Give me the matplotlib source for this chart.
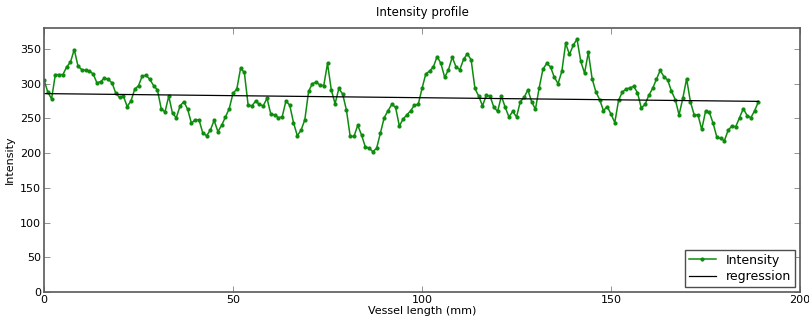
import numpy as np
import matplotlib
matplotlib.use("Agg")
import matplotlib.pyplot as plt

# intensity values, one per mm
intensity = [
    305, 288, 278, 313, 313, 313, 324, 331, 349, 325,
    320, 319, 318, 314, 301, 303, 308, 306, 301, 286,
    280, 282, 267, 275, 292, 297, 311, 312, 306, 297,
    291, 264, 259, 282, 257, 251, 268, 274, 263, 243,
    248, 248, 229, 225, 233, 247, 231, 240, 252, 264,
    286, 292, 322, 316, 269, 268, 275, 270, 268, 279,
    256, 255, 251, 252, 275, 269, 244, 225, 233, 248,
    289, 300, 302, 298, 297, 329, 291, 271, 293, 285,
    262, 224, 224, 240, 226, 209, 207, 202, 207, 229,
    251, 261, 270, 266, 239, 249, 255, 261, 269, 270,
    293, 314, 318, 324, 339, 329, 309, 320, 338, 324,
    320, 335, 343, 334, 293, 282, 268, 283, 282, 266,
    260, 282, 266, 252, 260, 252, 274, 280, 291, 274,
    263, 294, 321, 329, 324, 309, 300, 318, 358, 342,
    355, 364, 332, 315, 345, 307, 288, 277, 261, 267,
    256, 244, 276, 288, 292, 294, 296, 287, 265, 270,
    283, 293, 306, 319, 310, 305, 289, 277, 255, 279,
    307, 274, 255, 255, 234, 260, 259, 243, 223, 221,
    218, 233, 239, 238, 251, 264, 254, 251, 261, 274,
]
length = np.arange(len(intensity))

slope, intercept = np.polyfit(length, intensity, 1)
regression = intercept + slope * length

fig = plt.figure(figsize=(8.09, 3.22), dpi=100)
ax = fig.add_axes([0.0544, 0.093, 0.9345, 0.82])

ax.plot(length, intensity, color=(0.05, 0.55, 0.05), lw=1.1, marker='o',
        markersize=2, label='Intensity')
ax.plot(length, regression, color='k', lw=0.9, label='regression')

ax.set_xlim(0, 200)
ax.set_ylim(0, 380)
ax.set_xticks([0, 50, 100, 150, 200])
ax.set_yticks([0, 50, 100, 150, 200, 250, 300, 350])
ax.tick_params(direction='in', top=True, right=True, labelsize=8, pad=2,
               length=4, width=0.6, color='0.5')
for s in ax.spines.values():
    s.set_color('0.35')
    s.set_linewidth(1.2)

ax.set_title('Intensity profile', fontsize=8.5, pad=9)
ax.set_xlabel('Vessel length (mm)', fontsize=8, labelpad=1)
ax.set_ylabel('Intensity', fontsize=8, labelpad=4)

leg = ax.legend(loc='lower right', fontsize=9, fancybox=False,
                handlelength=2.2, borderaxespad=0.4, framealpha=1,
                borderpad=0.3, labelspacing=0.3)
leg.get_frame().set_edgecolor('0.3')
leg.get_frame().set_linewidth(1.0)

fig.savefig('out.png', dpi=100)
